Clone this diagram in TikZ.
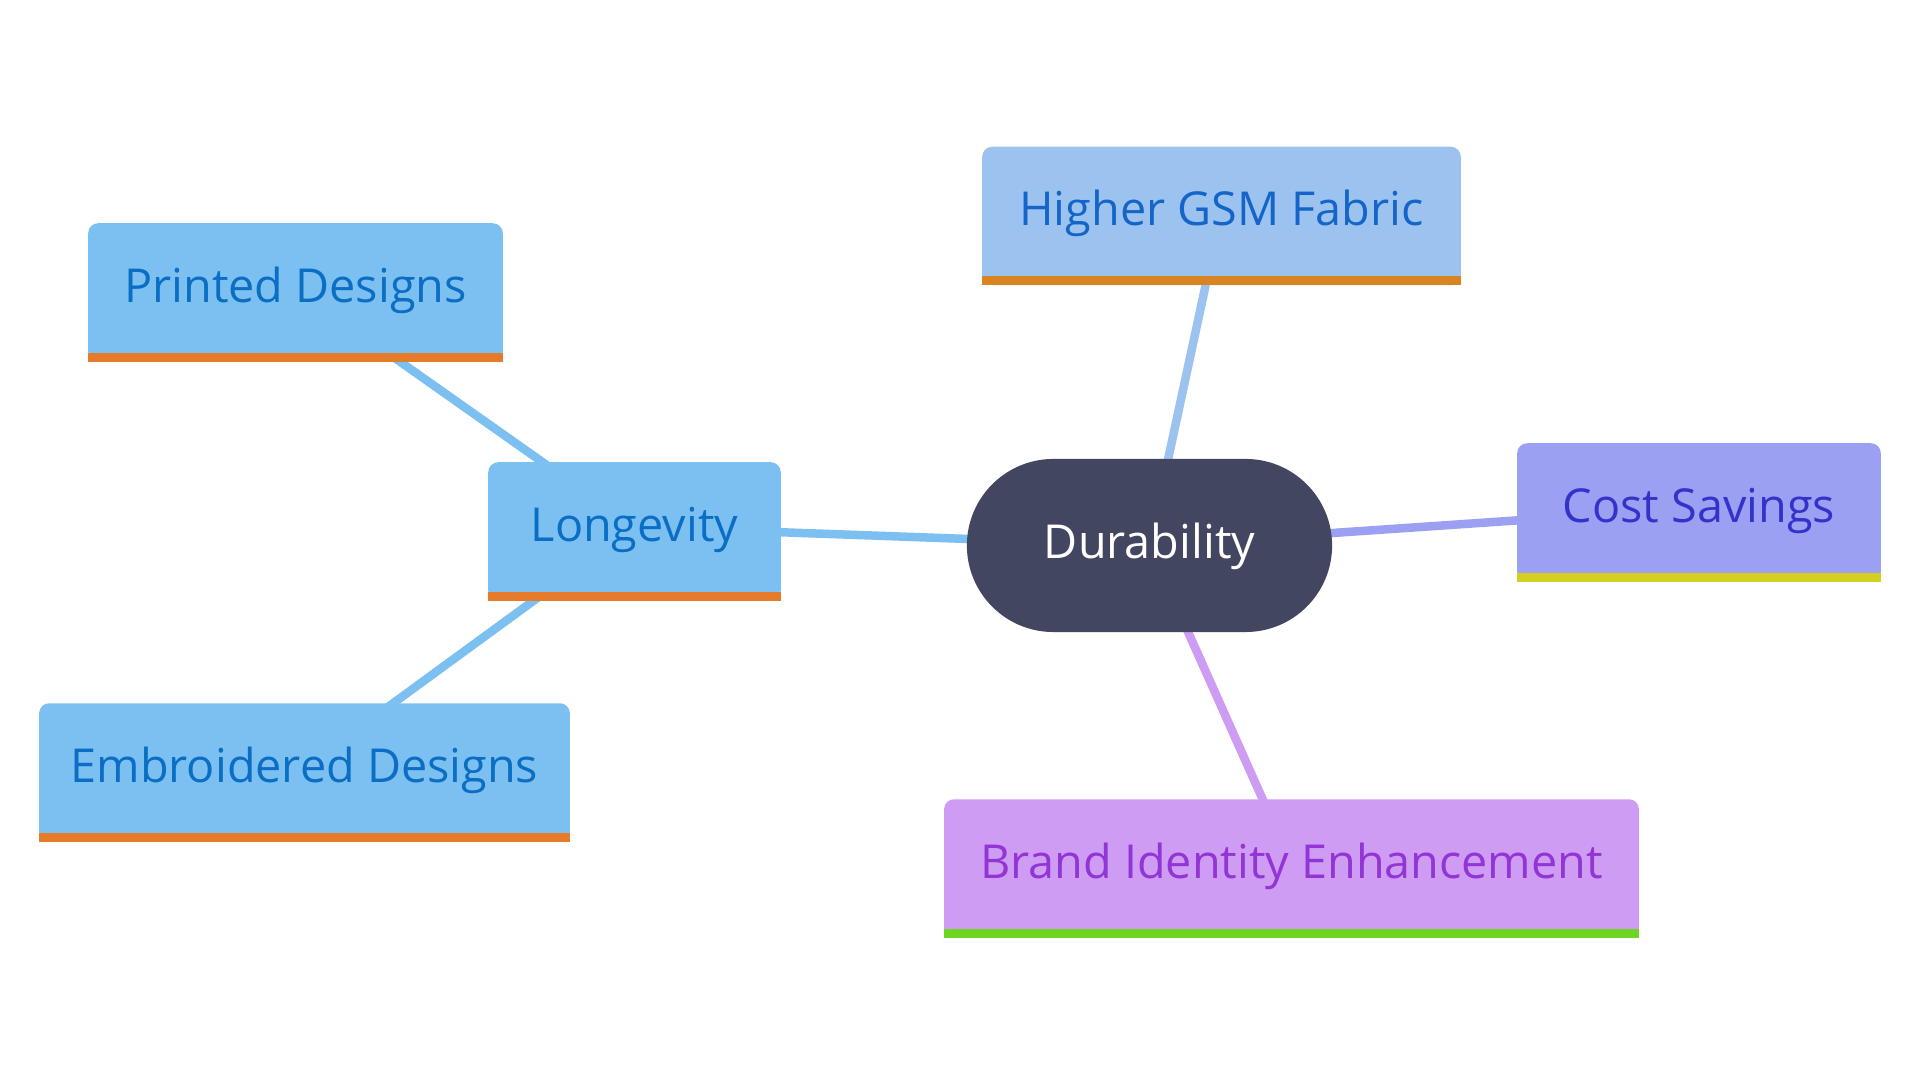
\documentclass[tikz,border=0pt]{standalone}
\usepackage{fontspec}
\setmainfont{Open Sans}
\pgfdeclarelayer{back}
\pgfdeclarelayer{edges}
\pgfdeclarelayer{bg}
\pgfsetlayers{back,edges,bg,main}
\definecolor{rootfill}{HTML}{424660}
\definecolor{lonfill}{HTML}{7CC0F2}
\definecolor{lontext}{HTML}{0B6EC5}
\definecolor{lonbar}{HTML}{E67C2A}
\definecolor{gsmfill}{HTML}{9CC3F0}
\definecolor{gsmtext}{HTML}{1565C8}
\definecolor{gsmbar}{HTML}{D98420}
\definecolor{costfill}{HTML}{9CA0F2}
\definecolor{costtext}{HTML}{3333CC}
\definecolor{costbar}{HTML}{D4CE1E}
\definecolor{brandfill}{HTML}{CE9CF2}
\definecolor{brandtext}{HTML}{9334D6}
\definecolor{brandbar}{HTML}{6ED620}
\tikzset{
  leaf/.style={rectangle, minimum height=1.28cm, inner sep=0pt,
    text height=10pt, text depth=1.8pt,
    font=\fontsize{13.3pt}{16pt}\selectfont},
  rootnode/.style={rectangle, rounded corners=0.865cm, minimum width=3.65cm, minimum height=1.73cm,
    fill=rootfill, text=white, inner sep=0pt, text height=10pt, text depth=2.5pt,
    font=\fontsize{13.3pt}{16pt}\selectfont},
  link/.style={line width=0.085cm, line cap=round},
}
\newcommand{\leafbase}[3]{%
  \begin{pgfonlayer}{bg}
    \fill[#2, rounded corners=0.1cm] (#1.north west) rectangle ([yshift=-0.09cm]#1.south east);
  \end{pgfonlayer}
  \fill[#3] (#1.south west) rectangle ([yshift=-0.09cm]#1.south east);
}
\begin{document}
\begin{tikzpicture}[x=0.01cm,y=-0.01cm]
\useasboundingbox (0,0) rectangle (1920,1080);
\begin{pgfonlayer}{back}
  \fill[white] (0,0) rectangle (1920,1080);
\end{pgfonlayer}

\node[rootnode] (dur) at (1149.5,545.5) {Durability};

\node[leaf, text=lontext, minimum width=2.91cm] (lon) at (634.5,527) {Longevity};
\leafbase{lon}{lonfill}{lonbar}
\node[leaf, text=lontext, minimum width=4.13cm] (pri) at (295.5,288) {Printed Designs};
\leafbase{pri}{lonfill}{lonbar}
\node[leaf, text=lontext, minimum width=5.29cm] (emb) at (304.5,768) {Embroidered Designs};
\leafbase{emb}{lonfill}{lonbar}
\node[leaf, text=gsmtext, minimum width=4.77cm] (gsm) at (1221.5,211.5) {Higher GSM Fabric};
\leafbase{gsm}{gsmfill}{gsmbar}
\node[leaf, text=costtext, minimum width=3.62cm] (cost) at (1699,508) {Cost Savings};
\leafbase{cost}{costfill}{costbar}
\node[leaf, text=brandtext, minimum width=6.93cm] (brand) at (1291.5,864) {Brand Identity Enhancement};
\leafbase{brand}{brandfill}{brandbar}

\begin{pgfonlayer}{edges}
  \draw[link, lonfill] (dur.center) -- (lon.center);
  \draw[link, lonfill] (lon.center) -- (pri.center);
  \draw[link, lonfill] (lon.center) -- (emb.center);
  \draw[link, gsmfill] (dur.center) -- (gsm.center);
  \draw[link, costfill] (dur.center) -- (cost.center);
  \draw[link, brandfill] (dur.center) -- (brand.center);
\end{pgfonlayer}
\end{tikzpicture}
\end{document}
